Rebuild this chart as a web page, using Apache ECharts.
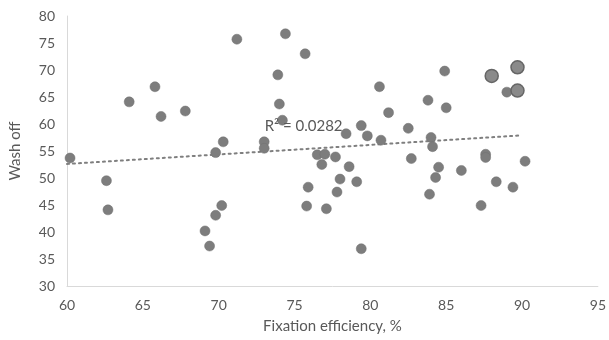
<!DOCTYPE html>
<html><head><meta charset="utf-8">
<script src="https://cdn.jsdelivr.net/npm/echarts@6/dist/echarts.min.js"></script>
<style>html,body{margin:0;padding:0;background:#fff}#c{width:609px;height:340px}</style>
</head><body><div id="c"></div>
<script>
const xTicks = [60,65,70,75,80,85,90,95];
const yTicks = [30,35,40,45,50,55,60,65,70,75,80];
const fixation = [60.2,62.6,62.7,64.1,65.8,66.2,67.8,69.1,69.4,69.8,69.8,70.2,70.3,71.2,73.0,73.0,73.9,74.0,74.2,74.4,75.7,75.9,75.8,76.5,76.8,77.0,77.1,77.7,77.8,78.0,78.4,78.6,79.1,79.4,79.4,79.8,80.6,80.7,81.2,82.5,82.7,83.8,84.0,84.1,83.9,84.3,84.5,84.9,85.0,86.0,87.6,87.6,87.3,88.3,89.0,89.4,90.2];
const washOff = [53.7,49.5,44.1,64.1,66.9,61.4,62.4,40.2,37.4,43.1,54.7,44.9,56.7,75.7,56.7,55.5,69.1,63.7,60.7,76.7,73.0,48.3,44.8,54.3,52.5,54.4,44.3,53.9,47.4,49.8,58.2,52.1,49.3,36.9,59.7,57.8,66.9,57.0,62.1,59.2,53.6,64.4,57.5,55.8,47.0,50.1,52.0,69.8,63.0,51.4,54.4,53.8,44.9,49.3,65.9,48.3,53.1];
const bigFixation = [88.0,89.7,89.7];
const bigWashOff = [68.9,70.5,66.2];
const trendX = [60,90];
const trendY = [52.6,57.9];
const r2Label = 'R² = 0.0282';

const pts = fixation.map((x,i)=>[x,washOff[i]]);
const bigPts = bigFixation.map((x,i)=>[x,bigWashOff[i]]);
const trend = trendX.map((x,i)=>[x,trendY[i]]);
const txt = '#595959';
const font = 'Lato, "Open Sans", sans-serif';
const chart = echarts.init(document.getElementById('c'), null, {renderer:'canvas'});
chart.setOption({
  animation:false,
  grid:{left:66,right:11,top:16,bottom:54,containLabel:false},
  xAxis:{type:'value',min:xTicks[0],max:xTicks[xTicks.length-1],interval:5,
    name:'Fixation efficiency, %',nameLocation:'middle',nameGap:33,
    nameTextStyle:{color:txt,fontSize:15,fontFamily:font},
    axisLine:{show:true,lineStyle:{color:'#d9d9d9'}},axisTick:{show:false},
    splitLine:{show:false},
    axisLabel:{color:txt,fontSize:14,fontFamily:font,margin:12}},
  yAxis:{type:'value',min:yTicks[0],max:yTicks[yTicks.length-1],interval:5,
    name:'Wash off',nameLocation:'middle',nameGap:44,nameRotate:90,
    nameTextStyle:{color:txt,fontSize:15,fontFamily:font},
    axisLine:{show:true,lineStyle:{color:'#d9d9d9'}},axisTick:{show:false},
    splitLine:{show:false},
    axisLabel:{color:txt,fontSize:14,fontFamily:font,margin:12}},
  series:[
    {type:'line',data:trend,symbol:'none',z:1,
     lineStyle:{color:'#7f7f7f',width:2,type:[2,4],cap:'round'},
     markPoint:{symbol:'rect',symbolSize:1,itemStyle:{color:'rgba(0,0,0,0)'},
       data:[{coord:[75.6,59.6],label:{show:true,formatter:r2Label,color:txt,fontSize:15,fontFamily:font,position:'inside'}}]}},
    {type:'scatter',data:pts,symbol:'circle',symbolSize:10,z:2,
     itemStyle:{color:'#7d7d7d',borderColor:'#707070',borderWidth:0.5,opacity:1}},
    {type:'scatter',data:bigPts,symbol:'circle',symbolSize:13,z:3,
     itemStyle:{color:'#8a8a8a',borderColor:'#666',borderWidth:1.5,opacity:1}}
  ]
});
</script></body></html>
